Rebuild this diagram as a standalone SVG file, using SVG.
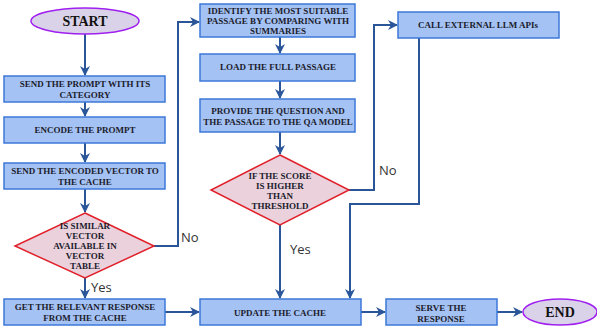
<svg xmlns="http://www.w3.org/2000/svg" width="597" height="326" viewBox="0 0 597 326">
<defs>
<marker id="ah" markerWidth="10" markerHeight="10" refX="9" refY="5" orient="auto" markerUnits="userSpaceOnUse">
<path d="M0,0 L10,5 L0,10 L3,5 Z" fill="#2a5699"/>
</marker>
<style>
.box{fill:#a4c2f4;stroke:#3c78d8;stroke-width:1.5}
.dia{fill:#ead1dc;stroke:#e0202a;stroke-width:1.5}
.ell{fill:#d9d2e9;stroke:#a020f0;stroke-width:1.5}
.t{font-family:"Liberation Serif",serif;font-weight:bold;font-size:9px;fill:#1c1c2c;text-anchor:middle}
.big{font-family:"Liberation Serif",serif;font-weight:bold;font-size:14px;fill:#111;text-anchor:middle}
.lbl{font-family:"Open Sans",sans-serif;font-size:13px;fill:#333}
.c{fill:none;stroke:#2a5699;stroke-width:2;marker-end:url(#ah)}
</style>
</defs>
<rect width="597" height="326" fill="#fff"/>
<g id="connectors">
<path class="c" d="M85,34 V75"/>
<path class="c" d="M85,102 V116"/>
<path class="c" d="M85,143 V162"/>
<path class="c" d="M85,189 V212"/>
<path class="c" d="M85,278 V298"/>
<path class="c" d="M154,246 H178 V22 H199"/>
<path class="c" d="M165,312 H199"/>
<path class="c" d="M280,37 V53"/>
<path class="c" d="M280,81 V98"/>
<path class="c" d="M280,132 V154"/>
<path class="c" d="M349,190 H374 V25 H397"/>
<path class="c" d="M280,225 V298"/>
<path class="c" d="M419,38 V204 H350 V298"/>
<path class="c" d="M361,312 H385"/>
<path class="c" d="M497,312 H522"/>
</g>
<g id="start"><ellipse class="ell" cx="85" cy="21" rx="54" ry="13"/><text class="big" x="85" y="26">START</text></g>
<g id="send-prompt"><rect class="box" x="4" y="76" width="161" height="26"/><text class="t" x="85" y="87">SEND THE PROMPT WITH ITS</text><text class="t" x="85" y="98">CATEGORY</text></g>
<g id="encode"><rect class="box" x="4" y="117" width="161" height="26"/><text class="t" x="85" y="133">ENCODE THE PROMPT</text></g>
<g id="send-vector"><rect class="box" x="4" y="163" width="161" height="26"/><text class="t" x="85" y="174">SEND THE ENCODED VECTOR TO</text><text class="t" x="85" y="185">THE CACHE</text></g>
<g id="similar"><polygon class="dia" points="85,213 154,246 85,278 15,246"/><text class="t" x="85" y="229">IS SIMILAR</text><text class="t" x="85" y="239">VECTOR</text><text class="t" x="85" y="249">AVAILABLE IN</text><text class="t" x="85" y="259">VECTOR</text><text class="t" x="85" y="269">TABLE</text></g>
<g id="get-response"><rect class="box" x="4" y="299" width="161" height="26"/><text class="t" x="85" y="310">GET THE RELEVANT RESPONSE</text><text class="t" x="85" y="321">FROM THE CACHE</text></g>
<g id="identify"><rect class="box" x="200" y="4" width="155" height="33"/><text class="t" x="278" y="14">IDENTIFY THE MOST SUITABLE</text><text class="t" x="278" y="24">PASSAGE BY COMPARING WITH</text><text class="t" x="278" y="34">SUMMARIES</text></g>
<g id="load"><rect class="box" x="200" y="54" width="155" height="27"/><text class="t" x="278" y="70">LOAD THE FULL PASSAGE</text></g>
<g id="provide"><rect class="box" x="200" y="99" width="155" height="33"/><text class="t" x="278" y="114">PROVIDE THE QUESTION AND</text><text class="t" x="278" y="125">THE PASSAGE TO THE QA MODEL</text></g>
<g id="score"><polygon class="dia" points="280,155 349,190 280,225 211,190"/><text class="t" x="280" y="179">IF THE SCORE</text><text class="t" x="280" y="189">IS HIGHER</text><text class="t" x="280" y="199">THAN</text><text class="t" x="280" y="209">THRESHOLD</text></g>
<g id="call-llm"><rect class="box" x="398" y="12" width="161" height="26"/><text class="t" x="478" y="28">CALL EXTERNAL LLM APIs</text></g>
<g id="update"><rect class="box" x="200" y="299" width="161" height="26"/><text class="t" x="280" y="316">UPDATE THE CACHE</text></g>
<g id="serve"><rect class="box" x="386" y="299" width="111" height="26"/><text class="t" x="441" y="311">SERVE THE</text><text class="t" x="441" y="322">RESPONSE</text></g>
<g id="end"><ellipse class="ell" cx="560" cy="312" rx="37" ry="13"/><text class="big" x="560" y="317">END</text></g>
<g id="labels">
<text class="lbl" x="181" y="242">No</text>
<text class="lbl" x="91" y="292">Yes</text>
<text class="lbl" x="379" y="175">No</text>
<text class="lbl" x="290" y="254">Yes</text>
</g>
</svg>
